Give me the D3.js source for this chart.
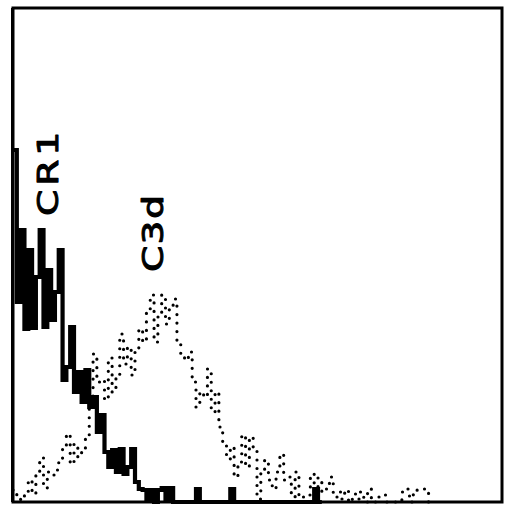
<!DOCTYPE html>
<html>
<head>
<meta charset="utf-8">
<script src="https://cdn.jsdelivr.net/npm/d3@7"></script>
<style>
  body { margin: 0; background: #fff; }
  svg { display: block; }
</style>
</head>
<body>
<div id="chart"></div>
<script>
// Histogram counts per channel
const cr1Counts = [352, 200, 272, 173, 252, 174, 225, 272, 175, 232,
                   182, 210, 252, 122, 135, 175, 110, 130, 100, 132,
                   95, 105, 70, 87, 50, 35, 52, 30, 53, 28,
                   35, 53, 20, 13, 12, 2, 12, 0, 12, 14,
                   2, 14, 0, 0, 0, 0, 0, 0, 13, 0,
                   0, 0, 0, 0, 0, 0, 0, 13, 0, 0,
                   0, 0, 0, 0, 0, 0, 0, 0, 0, 0,
                   0, 0, 0, 0, 0, 0, 0, 0, 0, 13, 0];

const c3dCounts = [12, 5, 2, 10, 22, 8, 30, 44, 14, 30,
                   27, 32, 40, 55, 68, 38, 58, 45, 53, 67,
                   100, 148, 120, 122, 102, 144, 110, 125, 168, 138,
                   155, 127, 150, 173, 160, 190, 207, 160, 185, 207,
                   178, 195, 203, 160, 148, 142, 150, 120, 95, 110,
                   105, 133, 90, 110, 75, 60, 43, 55, 25, 40,
                   67, 35, 65, 52, 3, 30, 42, 22, 13, 30,
                   48, 22, 25, 5, 30, 0, 5, 7, 28, 15,
                   24, 10, 13, 25, 5, 10, 3, 12, 0, 8,
                   3, 10, 0, 13, 0, 0, 5, 7, 0, 0,
                   0, 0, 10, 13, 0, 10, 13, 13, 12, 0];

const labels = ["CR1", "C3d"];

const width = 510, height = 505;
const frame = { left: 13, right: 502, top: 8, bottom: 502 };

const svg = d3.select("#chart").append("svg")
    .attr("width", width)
    .attr("height", height);

const x = d3.scaleLinear().domain([0, 128]).range([frame.left, frame.right - 1]);
const y = d3.scaleLinear().domain([0, 493]).range([frame.bottom, frame.bottom - 493]);

function stepPoints(counts) {
    const pts = counts.map((c, i) => [i, c]);
    pts.push([counts.length, counts[counts.length - 1]]);
    pts.push([counts.length, 0]);
    return pts;
}

const line = d3.line()
    .x(d => x(d[0]))
    .y(d => y(d[1]))
    .curve(d3.curveStepAfter);

// C3d - dotted histogram
svg.append("path")
    .attr("d", line(stepPoints(c3dCounts)))
    .attr("fill", "none")
    .attr("stroke", "#000")
    .attr("stroke-width", 3.2)
    .attr("stroke-linecap", "round")
    .attr("stroke-dasharray", "0,8.5");

// CR1 - solid histogram
svg.append("path")
    .attr("d", line(stepPoints(cr1Counts)))
    .attr("fill", "none")
    .attr("stroke", "#000")
    .attr("stroke-width", 4.2);

// frame
svg.append("rect")
    .attr("x", frame.left)
    .attr("y", frame.top)
    .attr("width", frame.right - frame.left)
    .attr("height", frame.bottom - frame.top)
    .attr("fill", "none")
    .attr("stroke", "#000")
    .attr("stroke-width", 3);

svg.append("line")
    .attr("x1", frame.left - 1).attr("x2", frame.left - 1)
    .attr("y1", frame.top).attr("y2", frame.bottom)
    .attr("stroke", "#000")
    .attr("stroke-width", 2);

// rotated labels (plotter lettering is wide, so stretch along the text)
const labelPos = [[58, 216], [163, 272]];
labels.forEach((t, i) => {
    svg.append("text")
        .attr("transform", "translate(" + labelPos[i][0] + "," + labelPos[i][1] + ") rotate(-90) scale(1.3,1)")
        .attr("font-family", "DejaVu Sans")
        .attr("font-size", 29)
        .attr("letter-spacing", i === 0 ? 3 : 1)
        .attr("fill", "#000")
        .attr("stroke", "#000")
        .attr("stroke-width", 1)
        .attr("stroke-linejoin", "round")
        .text(t);
});
</script>
</body>
</html>
